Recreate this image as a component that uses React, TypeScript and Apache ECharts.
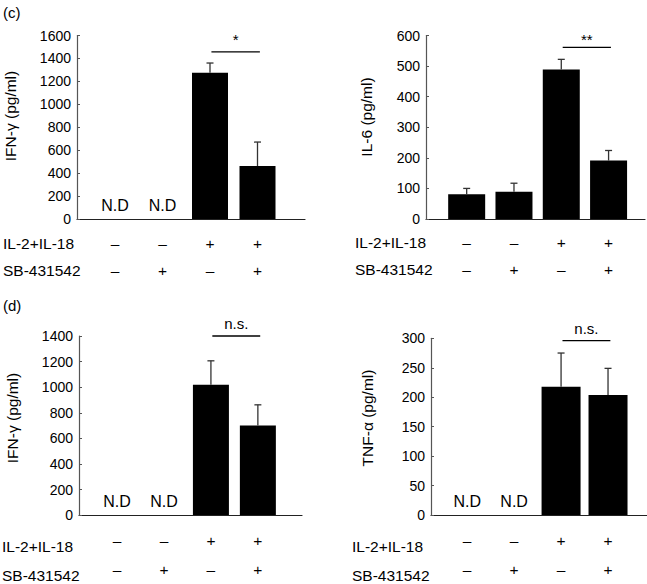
import React, { useEffect, useRef } from "react";
import * as echarts from "echarts";

// ---- data ----
const positions = [1, 2, 3, 4];
const il2il18Row = ["–", "–", "+", "+"];
const sbRow = ["–", "+", "–", "+"];

const ifnC = [null, null, 1275, 462];
const ifnCErr = [null, null, 85, 209];
const il6C = [81, 89, 489, 191];
const il6CErr = [19, 28, 33, 33];
const ifnD = [null, null, 1018, 701];
const ifnDErr = [null, null, 188, 161];
const tnfD = [null, null, 218, 204];
const tnfDErr = [null, null, 57, 45];

const yTicksIfnC = { max: 1600, interval: 200 };
const yTicksIl6C = { max: 600, interval: 100 };
const yTicksIfnD = { max: 1400, interval: 200 };
const yTicksTnfD = { max: 300, interval: 50 };

const sigLabels = ["*", "**", "n.s.", "n.s."];
const sigLevels = [1458, 561, 1400, 296];

const FONT = "'Liberation Sans', Arial, Helvetica, sans-serif";

type Panel = {
  values: (number | null)[];
  errs: (number | null)[];
  yMax: number;
  yInterval: number;
  yName: string;
  grid: { left: number; top: number; width: number; height: number };
  xMin: number;
  xMax: number;
  barWidth: number;
  rowGap: number;
  rowMargin: number;
  sigLabel: string;
  sigLevel: number;
  sigTextOffset: number;
  yNamePos: [number, number];
  rowLabelX: number;
};

const panels: Panel[] = [
  {
    values: ifnC, errs: ifnCErr, yMax: yTicksIfnC.max, yInterval: yTicksIfnC.interval,
    yName: "IFN-γ (pg/ml)",
    grid: { left: 77, top: 35.5, width: 228, height: 183.5 },
    xMin: 0.2, xMax: 5.0, barWidth: 36, rowGap: 27, rowMargin: 10.5,
    sigLabel: sigLabels[0], sigLevel: sigLevels[0], sigTextOffset: 12,
    yNamePos: [10, 116], rowLabelX: 3,
  },
  {
    values: il6C, errs: il6CErr, yMax: yTicksIl6C.max, yInterval: yTicksIl6C.interval,
    yName: "IL-6 (pg/ml)",
    grid: { left: 426, top: 35.5, width: 219, height: 183.5 },
    xMin: 0.14, xMax: 4.77, barWidth: 37, rowGap: 27, rowMargin: 10,
    sigLabel: sigLabels[1], sigLevel: sigLevels[1], sigTextOffset: 8,
    yNamePos: [366, 117], rowLabelX: 355,
  },
  {
    values: ifnD, errs: ifnDErr, yMax: yTicksIfnD.max, yInterval: yTicksIfnD.interval,
    yName: "IFN-γ (pg/ml)",
    grid: { left: 79, top: 336, width: 223, height: 185.7 },
    xMin: 0.19, xMax: 4.94, barWidth: 36, rowGap: 29.3, rowMargin: 10.3,
    sigLabel: sigLabels[2], sigLevel: sigLevels[2], sigTextOffset: 13,
    yNamePos: [12, 418], rowLabelX: 2,
  },
  {
    values: tnfD, errs: tnfDErr, yMax: yTicksTnfD.max, yInterval: yTicksTnfD.interval,
    yName: "TNF-α (pg/ml)",
    grid: { left: 431, top: 338.3, width: 216, height: 183.4 },
    xMin: 0.23, xMax: 4.83, barWidth: 39, rowGap: 29.3, rowMargin: 10.3,
    sigLabel: sigLabels[3], sigLevel: sigLevels[3], sigTextOffset: 12,
    yNamePos: [367, 418], rowLabelX: 352,
  },
];

export default function App() {
  const ref = useRef<HTMLDivElement>(null);

  useEffect(() => {
    if (!ref.current) return;
    const chart = echarts.init(ref.current, undefined, { renderer: "svg" });

    const grids: any[] = [];
    const xAxes: any[] = [];
    const yAxes: any[] = [];
    const series: any[] = [];
    const graphics: any[] = [];

    panels.forEach((p, i) => {
      grids.push({ ...p.grid, containLabel: false });
      xAxes.push({
        type: "value",
        gridIndex: i,
        min: p.xMin,
        max: p.xMax,
        splitLine: { show: false },
        axisTick: { show: false },
        axisLine: { show: true, onZero: true, lineStyle: { color: "#222", width: 1.2 } },
        axisLabel: {
          show: true,
          customValues: positions,
          showMinLabel: true,
          showMaxLabel: true,
          hideOverlap: false,
          margin: p.rowMargin,
          formatter: (v: number) => {
            const k = Math.round(v) - 1;
            if (Math.abs(v - Math.round(v)) > 1e-6 || k < 0 || k > 3) return "";
            return il2il18Row[k] + "\n" + sbRow[k];
          },
          fontFamily: FONT,
          fontSize: 15.5,
          color: "#000",
          lineHeight: p.rowGap,
        },
      });
      yAxes.push({
        type: "value",
        gridIndex: i,
        min: 0,
        max: p.yMax,
        interval: p.yInterval,
        splitLine: { show: false },
        axisLine: { show: true, lineStyle: { color: "#555", width: 1.2 } },
        axisTick: { show: true, inside: true, length: 3, lineStyle: { color: "#555" } },
        axisLabel: {
          margin: 6,
          fontFamily: FONT,
          fontSize: 14,
          color: "#000",
          formatter: (v: number) => String(v),
        },
      });

      series.push({
        type: "bar",
        xAxisIndex: i,
        yAxisIndex: i,
        barWidth: p.barWidth,
        itemStyle: { color: "#000" },
        data: positions.map((x, k) => [x, p.values[k] == null ? "-" : p.values[k]]),
      });

      // error bars
      const errData = positions
        .map((x, k) => (p.values[k] != null && p.errs[k] != null ? [x, p.values[k], p.errs[k]] : null))
        .filter((d) => d != null);
      series.push({
        type: "custom",
        xAxisIndex: i,
        yAxisIndex: i,
        z: 3,
        data: errData,
        renderItem: (params: any, api: any) => {
          const x = api.value(0);
          const v = api.value(1);
          const e = api.value(2);
          const base = api.coord([x, v]);
          const top = api.coord([x, v + e]);
          return {
            type: "group",
            children: [
              { type: "line", shape: { x1: base[0], y1: base[1], x2: top[0], y2: top[1] }, style: { stroke: "#333", lineWidth: 1.3 } },
              { type: "line", shape: { x1: top[0] - 3.5, y1: top[1], x2: top[0] + 3.5, y2: top[1] }, style: { stroke: "#333", lineWidth: 1.3 } },
            ],
          };
        },
      });

      // N.D labels
      const ndData = positions.filter((_, k) => p.values[k] == null).map((x) => [x, 0]);
      if (ndData.length) {
        series.push({
          type: "custom",
          xAxisIndex: i,
          yAxisIndex: i,
          data: ndData,
          renderItem: (params: any, api: any) => {
            const c = api.coord([api.value(0), api.value(1)]);
            return {
              type: "text",
              x: c[0],
              y: c[1] - 14,
              style: { text: "N.D", fontFamily: FONT, fontSize: 16, fill: "#000", align: "center", verticalAlign: "middle" },
            };
          },
        });
      }

      // significance bracket
      series.push({
        type: "custom",
        xAxisIndex: i,
        yAxisIndex: i,
        data: [[3.03, 4.05, p.sigLevel]],
        renderItem: (params: any, api: any) => {
          const a = api.coord([api.value(0), api.value(2)]);
          const b = api.coord([api.value(1), api.value(2)]);
          return {
            type: "group",
            children: [
              { type: "line", shape: { x1: a[0], y1: a[1], x2: b[0], y2: b[1] }, style: { stroke: "#000", lineWidth: 1.3 } },
              {
                type: "text",
                x: (a[0] + b[0]) / 2,
                y: a[1] - p.sigTextOffset,
                style: { text: p.sigLabel, fontFamily: FONT, fontSize: 15, fill: "#000", align: "center", verticalAlign: "middle" },
              },
            ],
          };
        },
      });

      graphics.push({
        type: "text",
        x: p.yNamePos[0],
        y: p.yNamePos[1],
        rotation: Math.PI / 2,
        style: { text: p.yName, fontFamily: FONT, fontSize: 15.5, fill: "#000", align: "center", verticalAlign: "middle" },
      });
      const axisY = p.grid.top + p.grid.height;
      const row1 = axisY + p.rowMargin + p.rowGap / 2;
      graphics.push({
        type: "text",
        x: p.rowLabelX,
        y: row1,
        style: { text: "IL-2+IL-18", fontFamily: FONT, fontSize: 15.5, fill: "#000", align: "left", verticalAlign: "middle" },
      });
      graphics.push({
        type: "text",
        x: p.rowLabelX,
        y: row1 + p.rowGap,
        style: { text: "SB-431542", fontFamily: FONT, fontSize: 15.5, fill: "#000", align: "left", verticalAlign: "middle" },
      });
    });

    graphics.push({
      type: "text", x: 3, y: 12,
      style: { text: "(c)", fontFamily: FONT, fontSize: 15, fill: "#000", align: "left", verticalAlign: "middle" },
    });
    graphics.push({
      type: "text", x: 3, y: 305,
      style: { text: "(d)", fontFamily: FONT, fontSize: 15, fill: "#000", align: "left", verticalAlign: "middle" },
    });

    chart.setOption({
      animation: false,
      backgroundColor: "#fff",
      grid: grids,
      xAxis: xAxes,
      yAxis: yAxes,
      series,
      graphic: graphics,
    });

    return () => chart.dispose();
  }, []);

  return (
    <div
      ref={ref}
      style={{ position: "fixed", left: 0, top: 0, width: 647, height: 584, background: "#fff" }}
    />
  );
}
